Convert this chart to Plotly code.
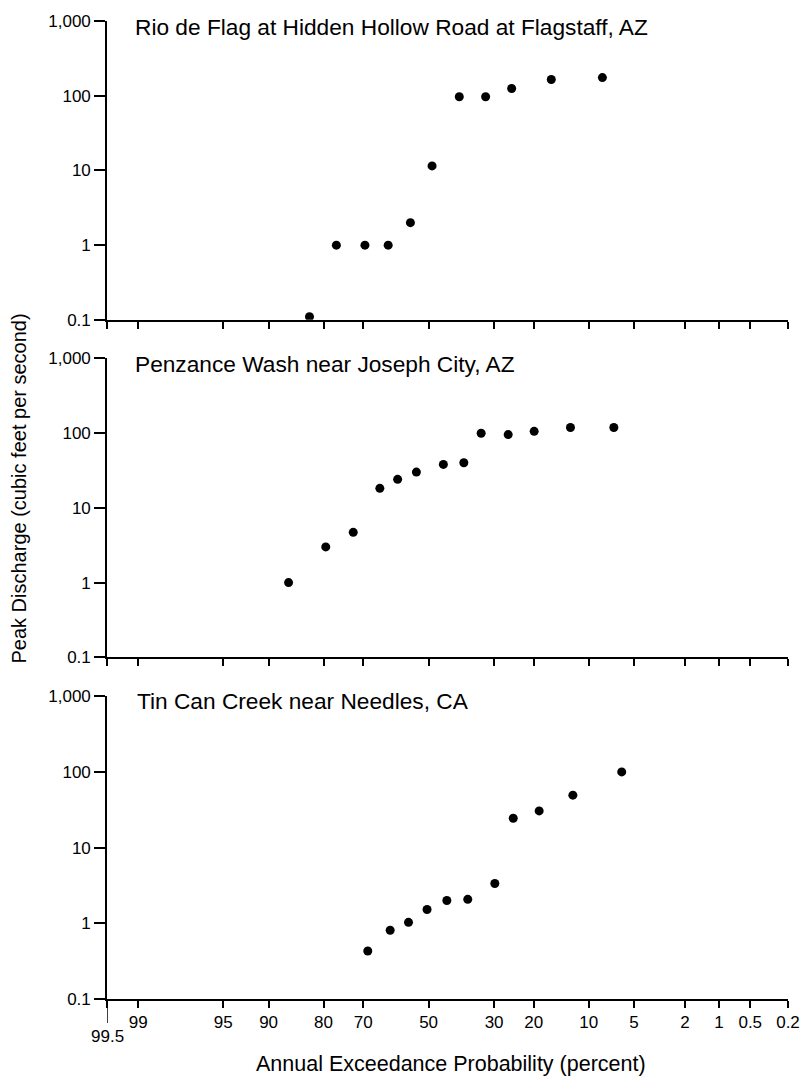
from statistics import NormalDist
import plotly.graph_objects as go

# ---------------- data ----------------
titles = [
    "Rio de Flag at Hidden Hollow Road at Flagstaff, AZ",
    "Penzance Wash near Joseph City, AZ",
    "Tin Can Creek near Needles, CA",
]

# annual exceedance probability (percent) and peak discharge (cfs)
rio_prob = [83.0, 77.0, 69.5, 62.7, 55.8, 48.9, 40.3, 32.4, 25.3, 16.3, 8.2]
rio_q = [0.11, 1.0, 1.0, 1.0, 2.0, 11.5, 97, 97, 125, 165, 175]

pen_prob = [86.9, 79.5, 72.7, 65.2, 59.8, 53.9, 45.3, 38.9, 33.7, 26.2, 19.9, 12.8, 6.9]
pen_q = [1.0, 3.0, 4.7, 18.2, 24, 30, 38, 40, 99, 95, 105, 118, 118]

tin_prob = [68.7, 62.1, 56.4, 50.5, 44.2, 37.7, 29.8, 24.9, 18.8, 12.4, 6.1]
tin_q = [0.43, 0.81, 1.03, 1.52, 2.0, 2.07, 3.36, 24.4, 30.5, 49.3, 100]

x_tick_probs = [99.5, 99, 95, 90, 80, 70, 50, 30, 20, 10, 5, 2, 1, 0.5, 0.2]
x_tick_text = ["", "99", "95", "90", "80", "70", "50", "30", "20", "10", "5", "2", "1", "0.5", "0.2"]

y_major_vals = [0.1, 1, 10, 100, 1000]
y_minor_vals = [0.2, 0.3, 0.4, 0.5, 0.6, 0.7, 0.8, 0.9,
                2, 3, 4, 5, 6, 7, 8, 9,
                20, 30, 40, 50, 60, 70, 80, 90,
                200, 300, 400, 500, 600, 700, 800, 900]

# ---------------- normal probability scale ----------------
nd = NormalDist()


def zpos(p):
    return nd.inv_cdf(1 - p / 100.0)


series = [(rio_prob, rio_q), (pen_prob, pen_q), (tin_prob, tin_q)]

FONT = "Liberation Sans, Arial, sans-serif"
W, H = 812, 1077
ML, MR, MT, MB = 107, 17, 14, 78
PH = H - MT - MB
PW = W - ML - MR


def fy(ypix):
    return (H - MB - ypix) / PH


domains = [
    [fy(315), 1.0],
    [fy(655), fy(353.5)],
    [0.0, fy(694)],
]

xr = [zpos(99.5), zpos(0.2)]
px_per_unit = PW / (xr[1] - xr[0])
MINOR_LEN = 6  # px
minor_x = xr[0] - (MINOR_LEN / 2) / px_per_unit  # centre of a tick drawn outside the axis

fig = go.Figure()
for i, (pr, q) in enumerate(series):
    n = i + 1
    xa = "x" if n == 1 else f"x{n}"
    ya = "y" if n == 1 else f"y{n}"
    fig.add_trace(go.Scatter(
        x=[zpos(p) for p in pr], y=q, mode="markers",
        marker=dict(size=9, color="black"),
        xaxis=xa, yaxis=ya, showlegend=False, hoverinfo="skip",
    ))
    # minor log ticks (2..9 of each decade) drawn as short horizontal dashes
    fig.add_trace(go.Scatter(
        x=[minor_x] * len(y_minor_vals), y=y_minor_vals, mode="markers",
        marker=dict(symbol="line-ew", size=MINOR_LEN, color="black",
                    line=dict(color="black", width=1.2)),
        cliponaxis=False, xaxis=xa, yaxis=ya,
        showlegend=False, hoverinfo="skip",
    ))

layout = dict(
    width=W, height=H,
    margin=dict(l=ML, r=MR, t=MT, b=MB),
    paper_bgcolor="white", plot_bgcolor="white",
    font=dict(family=FONT, color="black", size=17),
    showlegend=False,
)
for i in range(3):
    n = i + 1
    xk = "xaxis" if n == 1 else f"xaxis{n}"
    yk = "yaxis" if n == 1 else f"yaxis{n}"
    layout[xk] = dict(
        domain=[0, 1], range=xr, anchor="y" if n == 1 else f"y{n}",
        tickmode="array", tickvals=[zpos(p) for p in x_tick_probs],
        ticktext=x_tick_text if n == 3 else [""] * len(x_tick_probs),
        showticklabels=(n == 3),
        ticks="outside", ticklen=7, tickwidth=1.5, tickcolor="black",
        showline=True, linecolor="black", linewidth=1.6,
        showgrid=False, zeroline=False, fixedrange=True,
        tickfont=dict(size=17, family=FONT, color="black"),
    )
    layout[yk] = dict(
        domain=domains[i], type="log", range=[-1, 3],
        anchor="x" if n == 1 else f"x{n}",
        tickmode="array", tickvals=y_major_vals, tickformat=",~g",
        ticks="outside", ticklen=11, tickwidth=1.5, tickcolor="black",
        showline=True, linecolor="black", linewidth=1.6,
        showgrid=False, zeroline=False, fixedrange=True,
        tickfont=dict(size=17, family=FONT, color="black"),
    )
fig.update_layout(**layout)

# panel titles
title_pix = [(133, 20), (133, 359), (135, 698.5)]
for t, (px, py) in zip(titles, title_pix):
    fig.add_annotation(text=t, xref="paper", yref="paper",
                       x=(px - ML) / PW, y=fy(py), xanchor="left", yanchor="middle",
                       showarrow=False, font=dict(size=22.7, family=FONT, color="black"))

# axis titles
fig.add_annotation(text="Annual Exceedance Probability (percent)", xref="paper", yref="paper",
                   x=(455 - ML) / PW, y=fy(1064), xanchor="center", yanchor="middle",
                   showarrow=False, font=dict(size=21.5, family=FONT, color="black"))
fig.add_annotation(text="Peak Discharge (cubic feet per second)", xref="paper", yref="paper",
                   x=(18 - ML) / PW, y=fy(485), xanchor="center", yanchor="middle",
                   textangle=-90, showarrow=False,
                   font=dict(size=20, family=FONT, color="black"))

# lowered 99.5 label with long tick
fig.add_annotation(text="99.5", xref="x3", yref="paper", x=zpos(99.5), y=fy(1037),
                   xanchor="center", yanchor="middle", showarrow=False,
                   font=dict(size=17, family=FONT, color="black"))
fig.add_shape(type="line", xref="x3", yref="paper", x0=zpos(99.5), x1=zpos(99.5),
              ysizemode="pixel", yanchor=0, y0=0, y1=-24,
              line=dict(color="black", width=1.5))

fig.write_html("out.html")
